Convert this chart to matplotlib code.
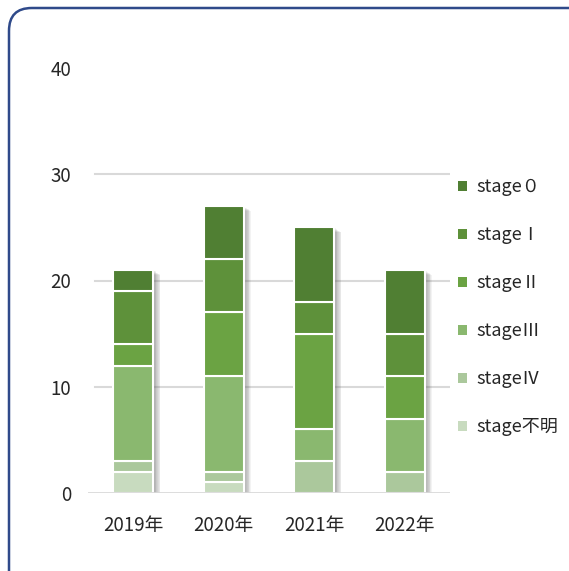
import numpy as np
import matplotlib.pyplot as plt
from matplotlib.patches import FancyBboxPatch, Patch

plt.rcParams['font.family'] = ['Noto Sans CJK JP', 'DejaVu Sans']

# Data (counts per stage, stacked bottom -> top)
years = ['2019年', '2020年', '2021年', '2022年']
stage_unknown = [2, 1, 0, 0]
stage_4 = [1, 1, 3, 2]
stage_3 = [9, 9, 3, 5]
stage_2 = [2, 6, 9, 4]
stage_1 = [5, 5, 3, 4]
stage_0 = [2, 5, 7, 6]

labels = ['stage不明', 'stageⅣ', 'stageⅢ', 'stageⅡ', 'stageⅠ', 'stage０']
series = [stage_unknown, stage_4, stage_3, stage_2, stage_1, stage_0]
colors = ['#c8dbbf', '#abc89c', '#8ab86f', '#6ba343', '#5e913a', '#507f33']

fig = plt.figure(figsize=(5.69, 5.71), dpi=100)

# rounded frame around the whole chart (runs off the right/bottom edge)
frame = FancyBboxPatch((9 / 569, 1 - 608 / 571), 600 / 569, 600 / 571,
                       boxstyle='round,pad=0,rounding_size=0.04',
                       transform=fig.transFigure, fill=False,
                       edgecolor='#2f4a8a', linewidth=1.8, clip_on=False)
fig.patches.append(frame)

ax = fig.add_axes([88 / 569, 1 - 493 / 571, 362 / 569, 425 / 571])

x = np.arange(len(years))
width = 0.44
totals = np.sum(series, axis=0)

# soft drop shadow on the right side of each bar
for k in range(1, 10):
    ax.bar(x + k * 0.009, totals - 0.05 * k, width, color='#555555',
           alpha=0.07, zorder=1, linewidth=0)

bottom = np.zeros(len(years))
for vals, col in zip(series, colors):
    ax.bar(x, vals, width, bottom=bottom, color=col, edgecolor='white',
           linewidth=1.5, zorder=3)
    bottom += np.array(vals)

ax.set_xlim(-0.5, 3.5)
ax.set_ylim(0, 40)
ax.set_yticks([0, 10, 20, 30, 40])
ax.set_xticks(x)
ax.set_xticklabels(years)
for y in [10, 20, 30]:
    ax.axhline(y, xmin=0.02, color='#d9d9d9', linewidth=1.5, zorder=0)
ax.axhline(0, color='#d9d9d9', linewidth=2, zorder=4)

for s in ax.spines.values():
    s.set_visible(False)
ax.tick_params(axis='both', length=0, labelsize=13.5, colors='#262626')
ax.tick_params(axis='y', pad=12)
ax.tick_params(axis='x', pad=16)

handles = [Patch(facecolor=c, edgecolor='none') for c in colors]
ax.legend(handles[::-1], labels[::-1], loc='upper left',
          bbox_to_anchor=(442 / 569, 1 - 162 / 571),
          bbox_transform=fig.transFigure, frameon=False,
          fontsize=13, handlelength=0.46, handleheight=0.46,
          handletextpad=0.55, labelspacing=1.66, labelcolor='#262626')

plt.savefig('out.png', dpi=100)
